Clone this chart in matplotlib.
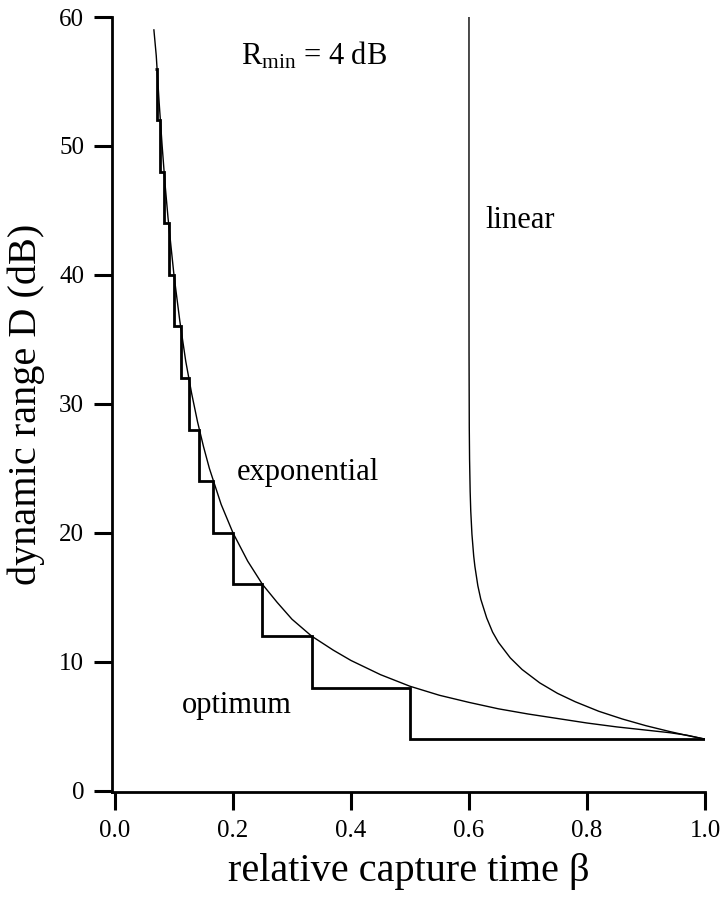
import matplotlib
matplotlib.use("Agg")
import matplotlib.pyplot as plt

plt.rcParams['font.family'] = ['Liberation Serif', 'DejaVu Serif']
plt.rcParams['mathtext.fontset'] = 'custom'
plt.rcParams['mathtext.rm'] = 'Liberation Serif'
plt.rcParams['mathtext.it'] = 'Liberation Serif:italic'

# ---- data ----
# optimum (staircase): edges in beta and level in dB for each interval
opt_edges = [0.068, 0.0714, 0.0769, 0.0833, 0.0909, 0.100, 0.1111, 0.125,
             0.1429, 0.1667, 0.200, 0.250, 0.3333, 0.500, 1.000]
opt_levels = [56, 52, 48, 44, 40, 36, 32, 28, 24, 20, 16, 12, 8, 4]

# exponential curve
exp_beta = [0.066, 0.070, 0.075, 0.080, 0.085, 0.090, 0.100, 0.110, 0.120,
            0.130, 0.140, 0.150, 0.160, 0.180, 0.200, 0.225, 0.250, 0.275,
            0.300, 0.333, 0.370, 0.400, 0.450, 0.500, 0.550, 0.600, 0.650,
            0.700, 0.750, 0.800, 0.850, 0.900, 0.940, 0.970, 1.000]
exp_D = [59.0, 57.0, 53.3, 50.0, 47.0, 44.4, 40.0, 36.4, 33.3,
         30.8, 28.6, 26.7, 25.0, 22.2, 20.0, 17.8, 16.0, 14.6,
         13.3, 12.0, 10.9, 10.1, 9.0, 8.1, 7.4, 6.85, 6.35,
         5.95, 5.6, 5.25, 4.95, 4.7, 4.5, 4.3, 4.0]

# linear curve
lin_beta = [0.6000, 0.6000, 0.6001, 0.6005, 0.601, 0.602, 0.603, 0.605,
            0.608, 0.610, 0.615, 0.620, 0.630, 0.640, 0.650, 0.670, 0.690,
            0.720, 0.750, 0.780, 0.820, 0.860, 0.900, 0.940, 0.970, 1.000]
lin_D = [60.0, 40.0, 34.0, 28.2, 25.7, 23.2, 21.7, 19.9,
         18.2, 17.4, 15.9, 14.85, 13.4, 12.3, 11.5, 10.3, 9.4,
         8.36, 7.55, 6.9, 6.16, 5.56, 5.04, 4.59, 4.28, 4.0]

x_ticks = [0.0, 0.2, 0.4, 0.6, 0.8, 1.0]
x_ticklabels = ["0.0", "0.2", "0.4", "0.6", "0.8", "1.0"]
y_ticks = [0, 10, 20, 30, 40, 50, 60]

# ---- figure ----
fig = plt.figure(figsize=(7.22, 9.0), dpi=100)
ax = fig.add_axes([112/722, 108/900, (705-112)/722, (792-17)/900])

ax.stairs(opt_levels, opt_edges, baseline=None, color='black', linewidth=2.0)
ax.plot(exp_beta, exp_D, color='black', linewidth=1.0)
ax.plot(lin_beta, lin_D, color='black', linewidth=1.0)

ax.set_xlim(-0.005, 1.0)
ax.set_ylim(-0.1, 60)
ax.set_xticks(x_ticks)
ax.set_xticklabels(x_ticklabels)
ax.set_yticks(y_ticks)

for s in ['top', 'right']:
    ax.spines[s].set_visible(False)
for s in ['left', 'bottom']:
    ax.spines[s].set_linewidth(2.0)
ax.tick_params(axis='both', direction='out', length=13, width=2.2,
               labelsize=18, pad=7)

ax.set_xlabel("relative capture time β", fontsize=29, labelpad=8)
ax.set_ylabel("dynamic range D (dB)", fontsize=29, labelpad=10)

ax.text(0.213, 56.3, r"R$_{\mathrm{min}}$ = 4 dB", fontsize=22,
        ha='left', va='baseline')
ax.text(0.628, 43.6, "linear", fontsize=22, ha='left', va='baseline')
ax.text(0.206, 24.1, "exponential", fontsize=22, ha='left', va='baseline')
ax.text(0.114, 6.0, "optimum", fontsize=22, ha='left', va='baseline')

fig.savefig("out.png", dpi=100)
